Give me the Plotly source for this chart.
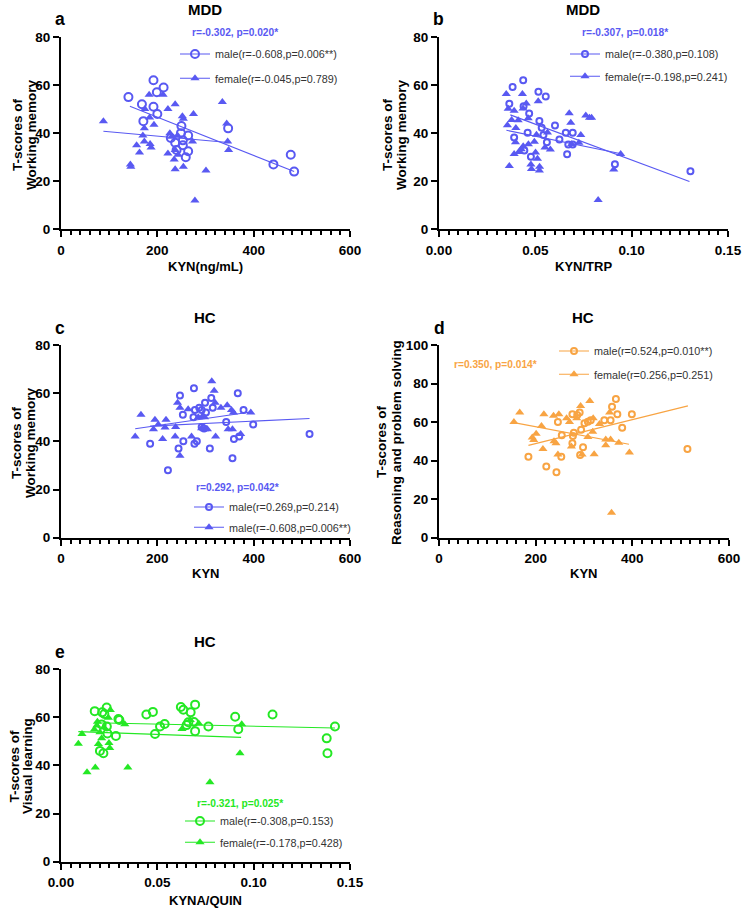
import plotly.graph_objects as go

# colours
BLUE = '#5959F2'
ORANGE = '#F8A443'
GREEN = '#24E824'
FONT = 'Liberation Sans, Arial, sans-serif'

# ---- a: MDD, KYN(ng/mL) vs working memory ----
a_male_x = [140, 168, 192, 199, 213, 192, 200, 171, 250, 347, 249, 264, 228, 237, 253, 253, 240, 264, 259, 441, 477, 484]
a_male_y = [55, 52, 62, 57, 59, 51, 48, 45, 43, 42, 40, 39, 38, 36, 37, 35, 33, 32.5, 30, 27, 31, 24]
a_female_x = [88, 183, 212, 237, 222, 174, 184, 193, 252, 254, 275, 335, 344, 173, 170, 173, 157, 163, 185, 187,
              226, 230, 242, 273, 346, 348, 222, 237, 235, 243, 237, 254, 301, 144, 145, 278]
a_female_y = [45, 56, 56, 52, 50, 50, 46.5, 43.5, 47, 46, 48, 53, 44, 42, 39, 36.5, 35, 32, 35.5, 34,
              40, 38.5, 39, 36.5, 36.5, 33, 31.5, 33, 29, 31, 25, 26, 24.5, 27, 26, 12]
a_male_fit_x, a_male_fit_y = [143, 484], [51.2, 24.0]
a_female_fit_x, a_female_fit_y = [88, 347], [40.8, 36.1]

# ---- b: MDD, KYN/TRP vs working memory ----
b_male_x = [0.0437, 0.0382, 0.0516, 0.0554, 0.0365, 0.0439, 0.0468, 0.0521, 0.0602, 0.0533, 0.0460, 0.0658,
            0.0694, 0.0390, 0.0542, 0.0560, 0.0625, 0.0671, 0.0694, 0.0443, 0.0477, 0.0665, 0.0913, 0.1305]
b_male_y = [62, 59.2, 57.2, 55.2, 52.2, 51.2, 48.2, 45.1, 43.2, 42.2, 40.2, 40.2,
            40.2, 38.2, 39.2, 36.2, 37.4, 35.3, 35.3, 32.8, 30.2, 31.2, 27.1, 24.2]
b_female_x = [0.0349, 0.0433, 0.0515, 0.0453, 0.0359, 0.0390, 0.0436, 0.0676, 0.0463, 0.0762, 0.0792, 0.0781,
              0.0684, 0.0377, 0.0411, 0.0355, 0.0399, 0.0563, 0.0506, 0.0736, 0.0397, 0.0495, 0.0464, 0.0437,
              0.0427, 0.0414, 0.0501, 0.0550, 0.0578, 0.0726, 0.0688, 0.0511, 0.0390, 0.0365, 0.0477, 0.0480,
              0.0522, 0.0521, 0.0907, 0.0943, 0.0826]
b_female_y = [56.3, 56.3, 53.3, 52.3, 50.2, 49.3, 50.3, 48.3, 46.2, 47.3, 46.4, 46.4,
              44.3, 45.5, 45.4, 43.3, 42.1, 40.3, 39.3, 39.2, 36.2, 36.4, 35.4, 34.6,
              33.3, 32.2, 32, 34, 33.2, 36, 35.4, 29.3, 31.3, 26.3, 27, 25.1,
              26, 24.5, 24.9, 31.3, 12.2]
b_male_fit_x, b_male_fit_y = [0.037, 0.130], [47.6, 19.9]
b_female_fit_x, b_female_fit_y = [0.035, 0.0945], [41.2, 31.4]

# ---- c: HC, KYN vs working memory ----
c_male_x = [276, 247, 367, 299, 312, 315, 278, 287, 292, 301, 253, 275, 379, 343, 399, 292, 297, 516,
            185, 254, 277, 282, 244, 309, 359, 370, 356, 222]
c_male_y = [62, 59, 60, 56, 58, 54, 53, 54, 53, 52, 51, 50, 53, 48, 47, 46, 45.3, 43,
            39, 40, 39, 40, 37, 37, 41, 42, 33, 28]
c_female_x = [313, 318, 242, 247, 264, 320, 332, 345, 354, 358, 394, 166, 195, 218, 202, 192, 216, 238,
              285, 293, 298, 292, 298, 304, 347, 356, 154, 211, 237, 271, 321, 373, 247]
c_female_y = [65, 61, 56, 54, 53.3, 56, 54, 55, 53, 52, 52, 51, 49, 49, 47, 45, 45.8, 46,
              50, 50.2, 50, 45.4, 45, 45, 45, 45, 42, 41, 42, 42, 42, 43, 34]
c_male_fit_x, c_male_fit_y = [185, 516], [46.3, 49.5]
c_female_fit_x, c_female_fit_y = [154, 394], [45.2, 52.2]

# ---- d: HC, KYN vs reasoning and problem solving ----
d_male_x = [366, 358, 399, 369, 342, 355, 276, 291, 286, 246, 301, 314, 308, 379, 294, 254, 279, 277,
            276, 298, 292, 253, 185, 222, 243, 514]
d_male_y = [72, 68, 64, 64, 61, 61, 64, 65, 63.7, 60, 59.4, 61, 60.2, 57, 56, 53.2, 54.5, 52.8,
            49, 46.9, 42.9, 42, 42, 37, 34, 46]
d_female_x = [312, 293, 167, 217, 237, 248, 264, 270, 285, 319, 353, 155, 212, 332, 318, 201, 193, 196,
              238, 242, 308, 345, 355, 372, 345, 215, 274, 246, 296, 321, 394, 357]
d_female_y = [71, 68.4, 65, 64, 63.3, 64, 62, 60, 62, 62, 65, 60, 58, 59, 55, 54, 52, 50.7,
              50, 49, 52.2, 51, 51, 49.3, 48, 46, 47.3, 43.2, 43.2, 43.3, 44.2, 13]
d_male_fit_x, d_male_fit_y = [185, 515], [47.9, 68.4]
d_female_fit_x, d_female_fit_y = [155, 393], [59.7, 48.5]

# ---- e: HC, KYNA/QUIN vs visual learning ----
e_male_x = [0.0237, 0.0175, 0.0214, 0.0225, 0.0443, 0.0477, 0.0622, 0.0635, 0.0696, 0.0673, 0.0904,
            0.1098, 0.0298, 0.0303, 0.0661, 0.0690, 0.0538, 0.0514, 0.0652, 0.0765, 0.0920, 0.0696,
            0.0211, 0.0238, 0.0241, 0.0285, 0.0488, 0.0202, 0.0220, 0.1422, 0.1379, 0.1383]
e_male_y = [64, 62.5, 62, 61.3, 61.1, 62.2, 64.2, 63.1, 65.2, 62, 60.2,
            61.1, 59.2, 58.8, 57.9, 58, 57.2, 56.1, 56.7, 56.1, 55, 54.2,
            57, 56.1, 53.2, 52.2, 53, 46, 45, 56.1, 51.2, 45]
e_female_x = [0.0256, 0.0189, 0.0246, 0.0331, 0.0628, 0.0715, 0.0938, 0.0109, 0.0173, 0.0186, 0.0223,
              0.0202, 0.0211, 0.0194, 0.0249, 0.0253, 0.0090, 0.0929, 0.0135, 0.0178, 0.0347, 0.0773, 0.0671]
e_female_y = [63, 58.1, 59.8, 57.1, 55.1, 57.4, 57.1, 53, 54.9, 56.5, 55.8,
              53.7, 51.2, 48.9, 49.3, 47.2, 49, 45, 37.1, 39.1, 39.1, 33, 58.8]
e_male_fit_x, e_male_fit_y = [0.0176, 0.1422], [57.7, 55.5]
e_female_fit_x, e_female_fit_y = [0.009, 0.0935], [54.0, 51.6]

# ---- texts ----
group_titles = ['MDD', 'MDD', 'HC', 'HC', 'HC']
panel_letters = ['a', 'b', 'c', 'd', 'e']
x_titles = ['KYN(ng/mL)', 'KYN/TRP', 'KYN', 'KYN', 'KYNA/QUIN']
y_titles_1 = ['T-scores of'] * 5
y_titles_2 = ['Working memory', 'Working memory', 'Working memory', 'Reasoning and problem solving',
              'Visual learning']
r_texts = ['r=-0.302, p=0.020*', 'r=-0.307, p=0.018*', 'r=0.292, p=0.042*', 'r=0.350, p=0.014*',
           'r=-0.321, p=0.025*']
male_labels = ['male(r=-0.608,p=0.006**)', 'male(r=-0.380,p=0.108)', 'male(r=0.269,p=0.214)',
               'male(r=0.524,p=0.010**)', 'male(r=-0.308,p=0.153)']
female_labels = ['female(r=-0.045,p=0.789)', 'female(r=-0.198,p=0.241)', 'male(r=-0.608,p=0.006**)',
                 'female(r=0.256,p=0.251)', 'female(r=-0.178,p=0.428)']

W, H = 742, 909


def fx(p):
    return p / W


def fy(p):
    return 1 - p / H


# per panel layout, in page pixels
panels = [
    dict(data=(a_male_x, a_male_y, a_female_x, a_female_y, a_male_fit_x, a_male_fit_y, a_female_fit_x, a_female_fit_y),
         color=BLUE, xd=(61, 350), yd=(37, 229.3), xr=[0, 600], dt=200, mdt=20, fmt='', yr=[0, 80], msize=8,
         title=(205, 10), letter=(60, 19), xt=(205, 266), yt=(17, 31, 135), rt=(235, 32, 'center'),
         leg=(175, 39.5), gap=5.3),
    dict(data=(b_male_x, b_male_y, b_female_x, b_female_y, b_male_fit_x, b_male_fit_y, b_female_fit_x, b_female_fit_y),
         color=BLUE, xd=(439, 728), yd=(37, 229.3), xr=[0, 0.15], dt=0.05, mdt=0.005, fmt='.2f', yr=[0, 80], msize=6,
         title=(583, 10), letter=(438, 19), xt=(583, 266), yt=(387, 401, 135), rt=(625, 32, 'center'),
         leg=(565, 39.5), gap=3.3),
    dict(data=(c_male_x, c_male_y, c_female_x, c_female_y, c_male_fit_x, c_male_fit_y, c_female_fit_x, c_female_fit_y),
         color=BLUE, xd=(61, 350), yd=(345, 537.7), xr=[0, 600], dt=200, mdt=20, fmt='', yr=[0, 80], msize=6,
         title=(205, 317), letter=(60, 328), xt=(205, 573), yt=(17, 31, 443), rt=(237, 487, 'center'),
         leg=(189, 492.5), gap=1.3),
    dict(data=(d_male_x, d_male_y, d_female_x, d_female_y, d_male_fit_x, d_male_fit_y, d_female_fit_x, d_female_fit_y),
         color=ORANGE, xd=(439, 729), yd=(345, 537.7), xr=[0, 600], dt=200, mdt=20, fmt='', yr=[0, 100], msize=6,
         title=(583, 317), letter=(439, 328), xt=(583, 573), yt=(382, 397, 442), rt=(452, 364, 'left'),
         leg=(554, 336.5), gap=4.3),
    dict(data=(e_male_x, e_male_y, e_female_x, e_female_y, e_male_fit_x, e_male_fit_y, e_female_fit_x, e_female_fit_y),
         color=GREEN, xd=(61, 350), yd=(669, 861.7), xr=[0, 0.15], dt=0.05, mdt=0.005, fmt='.2f', yr=[0, 80], msize=8,
         title=(205, 641), letter=(60, 652), xt=(205, 900), yt=(13.5, 27, 766), rt=(240, 803, 'center'),
         leg=(180, 806.5), gap=2.3),
]

fig = go.Figure()
annotations = []
layout = {}


def note(text, x, y, size, color='black', bold=True, anchor='center', angle=0):
    annotations.append(dict(text=text, x=fx(x), y=fy(y), xref='paper', yref='paper', showarrow=False,
                            xanchor=anchor, yanchor='middle', textangle=angle,
                            font=dict(family=FONT, size=size, color=color, weight='bold' if bold else 'normal')))


for i, p in enumerate(panels):
    n = i + 1
    sx = '' if n == 1 else str(n)
    xa, ya = 'x' + sx, 'y' + sx
    leg = 'legend' + sx
    mx, my, fxs, fys, mfx, mfy, ffx, ffy = p['data']
    c = p['color']

    fig.add_trace(go.Scatter(x=mx, y=my, xaxis=xa, yaxis=ya, mode='markers', showlegend=False,
                             marker=dict(symbol='circle-open', size=p['msize'], color=c, line=dict(width=2, color=c))))
    fig.add_trace(go.Scatter(x=fxs, y=fys, xaxis=xa, yaxis=ya, mode='markers', showlegend=False,
                             marker=dict(symbol='triangle-up', size=8, color=c)))
    fig.add_trace(go.Scatter(x=mfx, y=mfy, xaxis=xa, yaxis=ya, mode='lines', showlegend=False,
                             line=dict(color=c, width=1.1)))
    fig.add_trace(go.Scatter(x=ffx, y=ffy, xaxis=xa, yaxis=ya, mode='lines', showlegend=False,
                             line=dict(color=c, width=1.1)))
    # legend entries
    fig.add_trace(go.Scatter(x=[None], y=[None], xaxis=xa, yaxis=ya, mode='lines+markers', name=male_labels[i],
                             legend=leg, legendgroup='m%d' % n, line=dict(color=c, width=1.1),
                             marker=dict(symbol='circle-open', size=p['msize'], color=c, line=dict(width=2, color=c))))
    fig.add_trace(go.Scatter(x=[None], y=[None], xaxis=xa, yaxis=ya, mode='lines+markers', name=female_labels[i],
                             legend=leg, legendgroup='f%d' % n, line=dict(color=c, width=1.1),
                             marker=dict(symbol='triangle-up', size=8, color=c)))

    tickfont = dict(family=FONT, size=13.5, color='black', weight='bold')
    layout['xaxis' + sx] = dict(domain=[fx(p['xd'][0]), fx(p['xd'][1])], anchor=ya, range=p['xr'],
                                dtick=p['dt'], tick0=0, tickformat=p['fmt'], showline=True, linecolor='black',
                                linewidth=2, ticks='outside', ticklen=6, tickwidth=2, tickcolor='black',
                                showgrid=False, zeroline=False, tickfont=tickfont, automargin=False,
                                ticklabelstandoff=1,
                                minor=dict(dtick=p['mdt'], tick0=0, ticks='outside', ticklen=4, tickwidth=1.5,
                                           tickcolor='black', showgrid=False))
    layout['yaxis' + sx] = dict(domain=[fy(p['yd'][1]), fy(p['yd'][0])], anchor=xa, range=p['yr'],
                                dtick=20, tick0=0, showline=True, linecolor='black', linewidth=2,
                                ticks='outside', ticklen=6, tickwidth=2, tickcolor='black',
                                showgrid=False, zeroline=False, tickfont=tickfont, automargin=False)
    layout[leg] = dict(x=fx(p['leg'][0]), y=fy(p['leg'][1]), xanchor='left', yanchor='top',
                       bgcolor='rgba(0,0,0,0)', traceorder='grouped', tracegroupgap=p['gap'],
                       font=dict(family=FONT, size=10.8, color='#333333'))

    note(group_titles[i], p['title'][0], p['title'][1], 15)
    note(panel_letters[i], p['letter'][0], p['letter'][1], 17.5)
    note(x_titles[i], p['xt'][0], p['xt'][1], 13)
    note(y_titles_1[i], p['yt'][0], p['yt'][2], 13.5, angle=-90)
    note(y_titles_2[i], p['yt'][1], p['yt'][2], 13.5, angle=-90)
    note(r_texts[i], p['rt'][0], p['rt'][1], 10.2, color=c, anchor=p['rt'][2])

fig.update_layout(width=W, height=H, margin=dict(l=0, r=0, t=0, b=0), plot_bgcolor='white',
                  paper_bgcolor='white', annotations=annotations, **layout)

# drop the default 8px body margin so the figure fills the window exactly; no mode bar
fig.write_html('out.html', config={'displayModeBar': False},
               post_script="document.body.style.margin = '0px';")
